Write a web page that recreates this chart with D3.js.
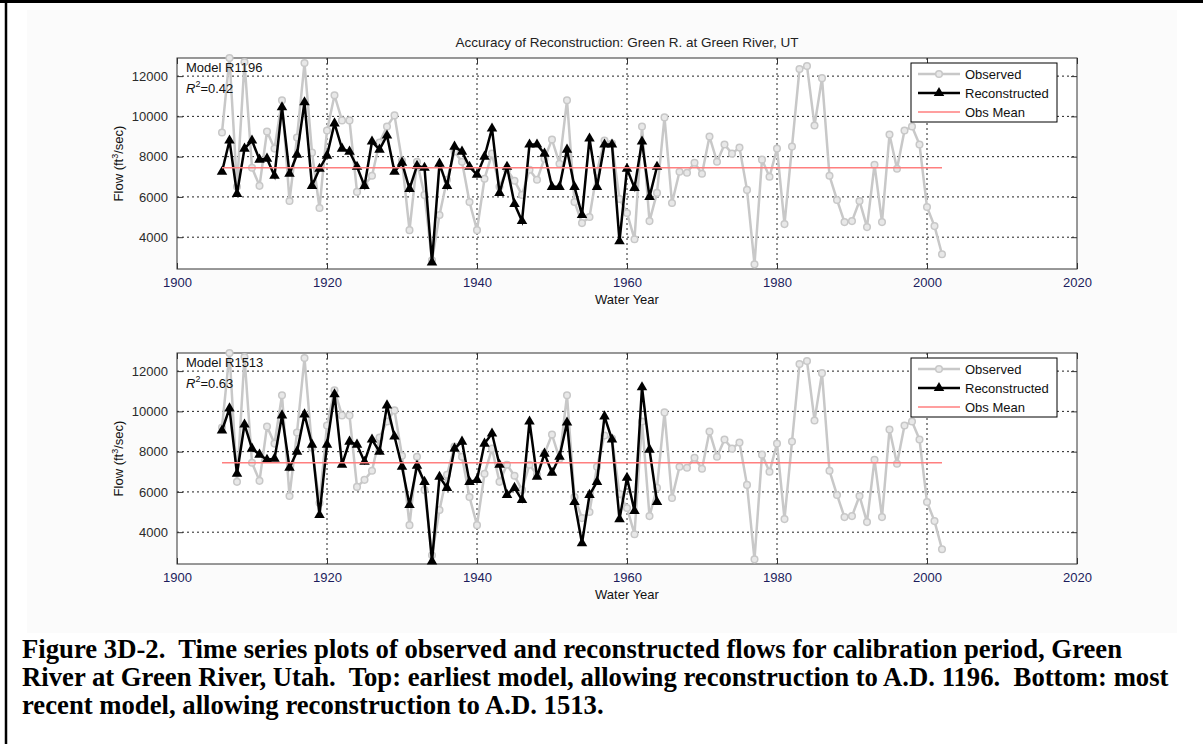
<!DOCTYPE html>
<html>
<head>
<meta charset="UTF-8">
<title>Green River reconstruction</title>
<script src="https://d3js.org/d3.v7.min.js"></script>
<style>
  body { margin: 0; background: #fff; }
  text { font-family: "Liberation Sans", Arial, sans-serif; }
</style>
</head>
<body>
<svg id="chart" width="1203" height="744"></svg>
<script>
// data
var obsStart = 1906
var observed = [9200, 12900, 6500, 12700,
  7450, 6550, 9250, 8400, 10800, 5800, 8950, 12650, 8200, 5450,
  9300, 11050, 9800, 9800, 6250, 6600, 7050, 8700, 9500, 10050,
  7800, 4350, 7750, 6100, 2850, 5100, 6850, 8250, 7750, 5750,
  4350, 6900, 8150, 6500, 7350, 6800, 6100, 7350, 6850, 7900,
  8850, 7650, 10800, 5750, 4700, 5000, 7250, 8800, 8650, 5900,
  5200, 3900, 9500, 4800, 6200, 9950, 5700, 7250, 7200, 7700,
  7150, 9000, 7750, 8600, 8150, 8450, 6350, 2650, 7850, 7000,
  8400, 4650, 8500, 12350, 12500, 9550, 11900, 7050, 5850, 4750,
  4800, 5800, 4500, 7600, 4750, 9100, 7400, 9300, 9500, 8600,
  5500, 4550, 3150]

var reconR1196 = [7250, 8800, 6150, 8400,
  8800, 7850, 7900, 7050, 10450, 7150, 8100, 10700, 6550, 7400,
  8050, 9650, 8400, 8250, 7500, 6550, 8750, 8350, 9050, 7250,
  7700, 6400, 7550, 7450, 2750, 7650, 6550, 8500, 8250, 7500,
  7100, 8000, 9400, 6200, 7500, 5650, 4800, 8600, 8600, 8150,
  6500, 6500, 8350, 6500, 5100, 8900, 6500, 8600, 8600, 3800,
  7400, 6450, 8750, 6000, 7500]

var reconR1513 = [9050, 10150, 6900, 9350,
  8150, 7850, 7600, 7650, 9800, 7200, 8000, 9850, 8350, 4850,
  8350, 10850, 7350, 8500, 8350, 7500, 8600, 8000, 10300, 8750,
  7250, 5350, 7300, 6500, 2550, 6750, 6200, 8150, 8500, 6500,
  6600, 8400, 8900, 7350, 5850, 6200, 5600, 9500, 6750, 7900,
  6950, 7750, 9450, 5500, 3450, 5850, 6500, 9750, 8600, 4650,
  6700, 5050, 11200, 8100, 5500]

var obsMean = 7450
var xTicks = [1900, 1920, 1940, 1960, 1980, 2000, 2020]
var yTicks = [4000, 6000, 8000, 10000, 12000]
var legendLabels = ["Observed", "Reconstructed", "Obs Mean"]

var panels = [
  { model: "Model R1196", r2: "0.42", recon: reconR1196, top: 58 },
  { model: "Model R1513", r2: "0.63", recon: reconR1513, top: 353 }
]

var svg = d3.select("#chart")

// figure frame
svg.append("rect").attr("x", 27).attr("y", 10).attr("width", 1150).attr("height", 623)
  .attr("fill", "#fbfbfb")
svg.append("line").attr("x1", 6).attr("x2", 6).attr("y1", 0).attr("y2", 744)
  .attr("stroke", "#000").attr("stroke-width", 2.5)
svg.append("line").attr("x1", 0).attr("x2", 1203).attr("y1", 1.5).attr("y2", 1.5)
  .attr("stroke", "#000").attr("stroke-width", 3)

var left = 177, right = 1077, ph = 211

var x = d3.scaleLinear().domain([1900, 2020]).range([left, right])

svg.append("text")
  .attr("x", (left + right) / 2).attr("y", 47)
  .attr("text-anchor", "middle")
  .style("font-size", "13.5px").attr("fill", "#222")
  .text("Accuracy of Reconstruction: Green R. at Green River, UT")

var grayC = "#c8c8c8"
var triangle = d3.symbol().type(d3.symbolTriangle).size(48)

panels.forEach(function (p) {
  var y = d3.scaleLinear().domain([2420, 12900]).range([p.top + ph, p.top])
  var g = svg.append("g")

  g.append("rect").attr("x", left).attr("y", p.top).attr("width", right - left).attr("height", ph)
    .attr("fill", "#fff")

  // grid
  g.selectAll(".gx").data(xTicks.slice(1, -1)).enter().append("line")
    .attr("x1", function (d) { return x(d) }).attr("x2", function (d) { return x(d) })
    .attr("y1", p.top).attr("y2", p.top + ph)
    .attr("stroke", "#222").attr("stroke-width", 1).attr("stroke-dasharray", "2,3")
  g.selectAll(".gy").data(yTicks).enter().append("line")
    .attr("x1", left).attr("x2", right)
    .attr("y1", function (d) { return y(d) }).attr("y2", function (d) { return y(d) })
    .attr("stroke", "#222").attr("stroke-width", 1).attr("stroke-dasharray", "2,3")

  // axes (ticks pointing inward, MATLAB style)
  var xb = g.append("g").attr("transform", "translate(0," + (p.top + ph) + ")")
    .call(d3.axisBottom(x).tickValues(xTicks).tickFormat(d3.format("d")).tickSizeInner(-6).tickSizeOuter(0).tickPadding(9))
  var xt = g.append("g").attr("transform", "translate(0," + p.top + ")")
    .call(d3.axisTop(x).tickValues(xTicks).tickFormat("").tickSizeInner(-6).tickSizeOuter(0))
  var yl = g.append("g").attr("transform", "translate(" + left + ",0)")
    .call(d3.axisLeft(y).tickValues(yTicks).tickFormat(d3.format("d")).tickSizeInner(-6).tickSizeOuter(0).tickPadding(9))
  var yr = g.append("g").attr("transform", "translate(" + right + ",0)")
    .call(d3.axisRight(y).tickValues(yTicks).tickFormat("").tickSizeInner(-6).tickSizeOuter(0))
  ;[xb, xt, yl, yr].forEach(function (a) {
    a.select(".domain").remove()
    a.selectAll("line").attr("stroke", "#333")
    a.selectAll("text").style("font-size", "13px").attr("font-family", "Liberation Sans, Arial, sans-serif")
  })
  xb.selectAll("text").attr("fill", "#1c1c5c")
  yl.selectAll("text").attr("fill", "#2a2a2a")

  g.append("rect").attr("x", left).attr("y", p.top).attr("width", right - left).attr("height", ph)
    .attr("fill", "none").attr("stroke", "#333").attr("stroke-width", 1)

  // observed
  var obsPts = observed.map(function (v, i) { return [obsStart + i, v] })
  var line = d3.line().x(function (d) { return x(d[0]) }).y(function (d) { return y(d[1]) })
  g.append("path").datum(obsPts).attr("d", line)
    .attr("fill", "none").attr("stroke", grayC).attr("stroke-width", 2.5).attr("stroke-linejoin", "round")
  g.selectAll(".oc").data(obsPts).enter().append("circle")
    .attr("cx", function (d) { return x(d[0]) }).attr("cy", function (d) { return y(d[1]) })
    .attr("r", 3.3).attr("fill", "#e8e8e8").attr("stroke", grayC).attr("stroke-width", 1.5)

  // reconstructed
  var recPts = p.recon.map(function (v, i) { return [obsStart + i, v] })
  g.append("path").datum(recPts).attr("d", line)
    .attr("fill", "none").attr("stroke", "#000").attr("stroke-width", 2.5).attr("stroke-linejoin", "miter")
  g.selectAll(".rt").data(recPts).enter().append("path")
    .attr("d", triangle)
    .attr("transform", function (d) { return "translate(" + x(d[0]) + "," + y(d[1]) + ")" })
    .attr("fill", "#000")

  // observed mean
  g.append("line")
    .attr("x1", x(obsStart)).attr("x2", x(obsStart + observed.length - 1))
    .attr("y1", y(obsMean)).attr("y2", y(obsMean))
    .attr("stroke", "#ff7f7f").attr("stroke-width", 1.5)

  // model label
  g.append("text").attr("x", 186).attr("y", p.top + 14)
    .style("font-size", "13px").attr("fill", "#111").text(p.model)
  var r = g.append("text").attr("x", 186).attr("y", p.top + 35)
    .style("font-size", "13px").attr("fill", "#111")
  r.append("tspan").style("font-style", "italic").text("R")
  r.append("tspan").attr("dy", -6).style("font-size", "9px").text("2")
  r.append("tspan").attr("dy", 6).text("=" + p.r2)

  // legend
  var lg = g.append("g").attr("transform", "translate(911," + (p.top + 5) + ")")
  lg.append("rect").attr("width", 146).attr("height", 59)
    .attr("fill", "#fff").attr("stroke", "#000").attr("stroke-width", 1)
  var rows = lg.selectAll(".row").data(legendLabels).enter().append("g")
    .attr("transform", function (d, i) { return "translate(0," + (11 + i * 19) + ")" })
  rows.append("line").attr("x1", 7).attr("x2", 49).attr("y1", 0).attr("y2", 0)
    .attr("stroke", function (d, i) { return [grayC, "#000", "#ff7f7f"][i] })
    .attr("stroke-width", function (d, i) { return i == 2 ? 1.5 : 2.5 })
  rows.filter(function (d, i) { return i == 0 }).append("circle")
    .attr("cx", 28).attr("cy", 0).attr("r", 3.3).attr("fill", "#e8e8e8").attr("stroke", grayC).attr("stroke-width", 1.5)
  rows.filter(function (d, i) { return i == 1 }).append("path")
    .attr("d", triangle).attr("transform", "translate(28,0)").attr("fill", "#000")
  rows.append("text").attr("x", 54).attr("y", 4.5)
    .style("font-size", "13px").attr("fill", "#111")
    .text(function (d) { return d })

  // axis labels
  g.append("text").attr("x", (left + right) / 2).attr("y", p.top + ph + 35)
    .attr("text-anchor", "middle").style("font-size", "13px").attr("fill", "#111")
    .text("Water Year")
  var yt = g.append("text")
    .attr("transform", "translate(123," + (p.top + ph / 2) + ") rotate(-90)")
    .attr("text-anchor", "middle").style("font-size", "13px").attr("fill", "#111")
  yt.append("tspan").text("Flow (ft")
  yt.append("tspan").attr("dy", -5).style("font-size", "9px").text("3")
  yt.append("tspan").attr("dy", 5).text("/sec)")
})

// caption
var caption = [
  "Figure 3D-2.  Time series plots of observed and reconstructed flows for calibration period, Green",
  "River at Green River, Utah.  Top: earliest model, allowing reconstruction to A.D. 1196.  Bottom: most",
  "recent model, allowing reconstruction to A.D. 1513."
]
svg.selectAll(".cap").data(caption).enter().append("text")
  .attr("x", 22).attr("y", function (d, i) { return 658 + i * 28 })
  .style("font-family", "'Liberation Serif', 'Times New Roman', serif")
  .style("font-size", "26.7px").style("font-weight", "bold").attr("fill", "#000")
  .style("white-space", "pre")
  .text(function (d) { return d })
</script>
</body>
</html>
